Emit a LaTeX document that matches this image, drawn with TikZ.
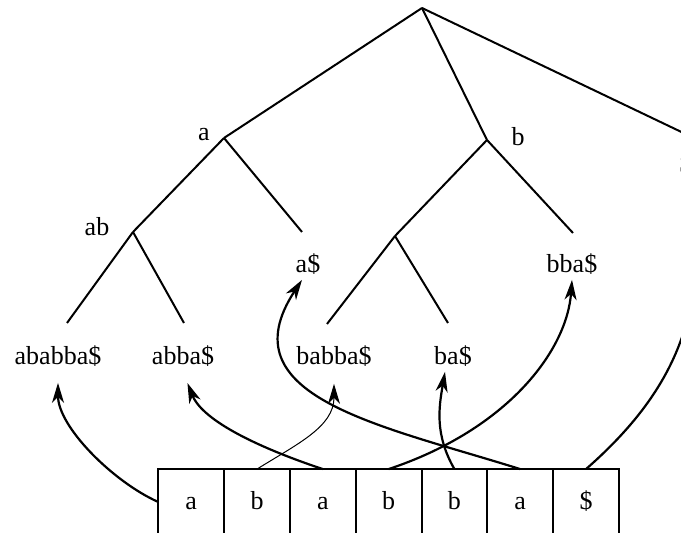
\documentclass[tikz,border=0pt]{standalone}
\usepackage{fontspec}
\setmainfont{Liberation Serif}
\usetikzlibrary{arrows.meta,positioning}

\begin{document}
\begin{tikzpicture}[
    x=0.5pt, y=-0.5pt,
    font=\fontsize{13}{15}\selectfont,
    >={Stealth[length=10pt,width=6pt,inset=3pt]},
    tedge/.style={line width=1pt},
    ptr/.style={->, line width=1.1pt},
    thinptr/.style={->, line width=0.5pt},
    lbl/.style={inner sep=2pt, text height=9pt, text depth=1.5pt},
    cell/.style={draw, line width=1pt, outer sep=0pt, inner sep=0pt, minimum width=32.9pt, minimum height=32.9pt, text height=9pt, text depth=1pt}
]
\useasboundingbox (0,0) rectangle (681,533);
\clip (0,0) rectangle (681,533);

\coordinate (root) at (422,8);
\coordinate (na) at (224,138);
\coordinate (nab) at (133,232);
\coordinate (nb) at (487,140);
\coordinate (nbb) at (395,236);
\coordinate (nr) at (740,160);
\coordinate (p0) at (67,323);
\coordinate (p1) at (327,324);
\coordinate (p2) at (184,323);
\coordinate (p3) at (573,233);
\coordinate (p4) at (448,323);
\coordinate (p5) at (302,232);

\node[lbl] (la) at (204,133) {a};
\node[lbl] (lab) at (97,228) {ab};
\node[lbl] (lb) at (518,138) {b};

\node[lbl] (s0) at (58,357) {ababba\$};
\node[lbl] (s1) at (334,357) {babba\$};
\node[lbl] (s2) at (183,357) {abba\$};
\node[lbl] (s3) at (572,265) {bba\$};
\node[lbl] (s4) at (453,357) {ba\$};
\node[lbl] (s5) at (308,265) {a\$};
\node[lbl] (s6) at (686,165) {\$};

\node[cell] (c0) at (191.2,502) {a};
\node[cell, right=0pt of c0] (c1) {b};
\node[cell, right=0pt of c1] (c2) {a};
\node[cell, right=0pt of c2] (c3) {b};
\node[cell, right=0pt of c3] (c4) {b};
\node[cell, right=0pt of c4] (c5) {a};
\node[cell, right=0pt of c5] (c6) {\$};

\draw[tedge] (root) -- (na);
\draw[tedge] (root) -- (nb);
\draw[tedge] (root) -- (nr);
\draw[tedge] (na) -- (nab);
\draw[tedge] (na) -- (p5);
\draw[tedge] (nab) -- (p0);
\draw[tedge] (nab) -- (p2);
\draw[tedge] (nb) -- (nbb);
\draw[tedge] (nb) -- (p3);
\draw[tedge] (nbb) -- (p1);
\draw[tedge] (nbb) -- (p4);

\draw[ptr, shorten >=5.5pt] (c0.west) .. controls +(-45,-20) and +(0,55) .. (s0.south);
\draw[thinptr, shorten >=6pt] (c1.north) .. controls +(40,-25) and +(0,55) .. (s1.south);
\draw[ptr, shorten >=6pt] (c2.north) .. controls +(-60,-20) and +(20,50) .. (s2.south);
\draw[ptr] (c3.north) .. controls +(120,-40) and +(-5,70) .. (s3.south);
\draw[ptr] (c4.north) .. controls +(-20,-35) and +(-6,35) .. ([xshift=-4pt]s4.south);
\draw[ptr] (c5.north) .. controls +(-140,-44) and +(-77,117) .. ([xshift=-3pt]s5.south);
\draw[ptr, shorten >=6pt] (c6.north) .. controls +(80,-70) and +(24,140) .. (s6.south);
\end{tikzpicture}
\end{document}
